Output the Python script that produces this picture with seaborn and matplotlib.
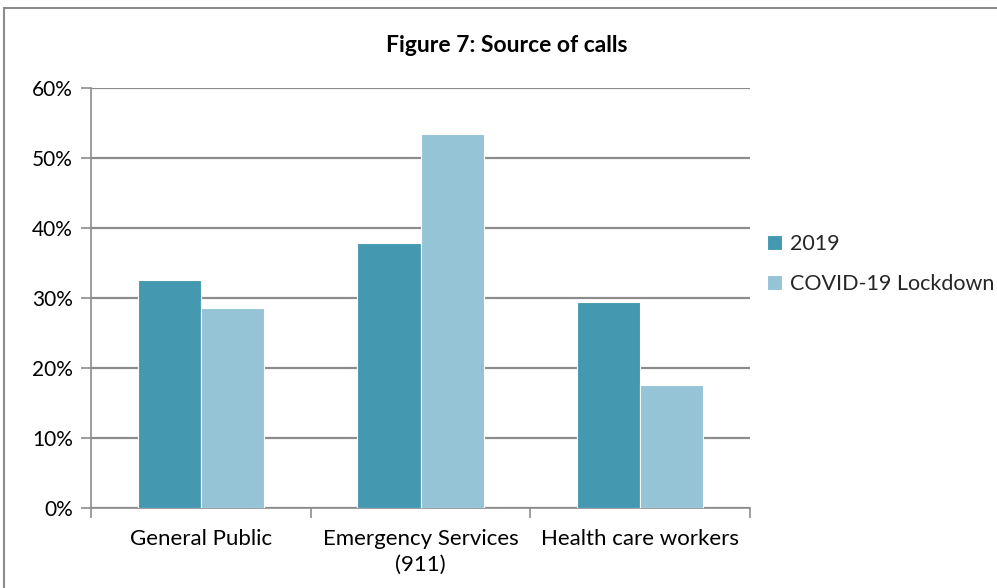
import matplotlib
matplotlib.use("Agg")
import matplotlib.pyplot as plt
import matplotlib.patches as mpatches
from matplotlib.ticker import PercentFormatter, FixedLocator
import seaborn as sns
import pandas as pd

categories = ["General Public", "Emergency Services\n(911)", "Health care workers"]
series_names = ["2019", "COVID-19 Lockdown"]
values_2019 = [32.6, 37.8, 29.4]
values_covid = [28.6, 53.5, 17.6]
y_ticks = [0, 10, 20, 30, 40, 50, 60]
title = "Figure 7: Source of calls"

df = pd.DataFrame({
    "Source": categories * 2,
    "Period": [series_names[0]] * 3 + [series_names[1]] * 3,
    "Share": values_2019 + values_covid,
})

sns.set_theme(style="white")
plt.rcParams["font.family"] = ["Lato", "DejaVu Sans"]

fig = plt.figure(figsize=(9.97, 5.88), dpi=100)
ax = fig.add_axes([91 / 997, 1 - 508 / 588, (750 - 91) / 997, (508 - 88) / 588])

palette = {"2019": "#4499B0", "COVID-19 Lockdown": "#94C4D6"}
sns.barplot(data=df, x="Source", y="Share", hue="Period", palette=palette,
            width=0.574, gap=0, edgecolor="white", linewidth=0.8,
            saturation=1, ax=ax, zorder=3)

grid_col = "#8C8C8C"
ax.set_ylim(0, 60)
ax.set_xlim(-0.5, 2.5)
ax.yaxis.set_major_locator(FixedLocator(y_ticks))
ax.yaxis.set_major_formatter(PercentFormatter(decimals=0))
ax.grid(axis="y", color=grid_col, linewidth=1.6, zorder=0)
ax.set_axisbelow(True)

for side in ["top", "right"]:
    ax.spines[side].set_visible(False)
for side in ["left", "bottom"]:
    ax.spines[side].set_color(grid_col)
    ax.spines[side].set_linewidth(1.2)

ax.tick_params(axis="y", which="major", length=7, width=1.2, color=grid_col,
               direction="out", labelsize=15, pad=6, left=True)
ax.tick_params(axis="x", which="major", length=0, labelsize=16, pad=15)
ax.set_xticks([-0.5, 0.5, 1.5, 2.5], minor=True)
ax.tick_params(axis="x", which="minor", length=7, width=1.2, color=grid_col,
               direction="out", bottom=True)
ax.set_xlabel("")
ax.set_ylabel("")
for lbl in ax.get_xticklabels():
    lbl.set_linespacing(1.4)
    lbl.set_color("#000000")
for lbl in ax.get_yticklabels():
    lbl.set_color("#000000")

handles, labels = ax.get_legend_handles_labels()
ax.legend(handles, labels, loc="center left", bbox_to_anchor=(767 / 997, 1 - 264 / 588),
          bbox_transform=fig.transFigure, frameon=False, fontsize=15.5,
          handlelength=0.7, handleheight=0.7, handletextpad=0.35, labelspacing=0.95,
          borderaxespad=0, borderpad=0)

fig.text(507 / 997, 1 - 45 / 588, title, ha="center", va="center",
         fontsize=16.5, fontweight="bold", color="#000000")

# outer chart frame
fig.patches.append(mpatches.Rectangle((4 / 997, -0.05), 1.1, 1 - 8 / 588 + 0.05,
                                      transform=fig.transFigure, fill=False,
                                      edgecolor="#8C8C8C", linewidth=1.5))

fig.savefig("out.png", dpi=100)
